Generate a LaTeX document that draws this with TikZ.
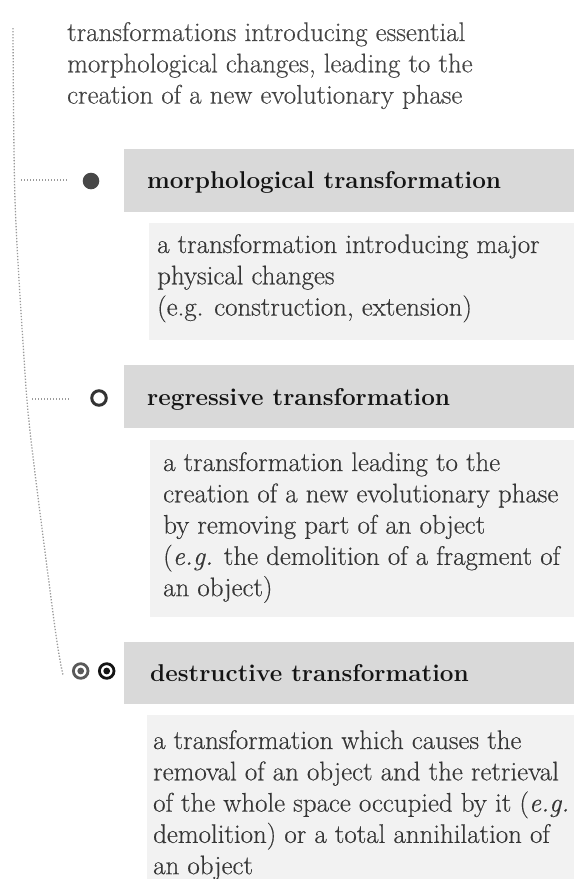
\documentclass[tikz,border=0pt]{standalone}
\usepackage{fontspec}
\newfontfamily\bodyfam{Latin Modern Roman}[FakeBold=0.35]
\definecolor{hdrfill}{HTML}{D9D9D9}
\definecolor{descfill}{HTML}{F2F2F2}
\definecolor{toptext}{HTML}{444444}
\definecolor{hdrtext}{HTML}{141414}
\definecolor{desctext}{HTML}{363636}
\definecolor{dotgray}{HTML}{9A9A9A}
\begin{document}
\begin{tikzpicture}[x=1pt,y=-1pt,
  hdrbox/.style={fill=hdrfill},
  descbox/.style={fill=descfill},
  bodytext/.style={anchor=base west, inner sep=0pt, text=desctext, font=\bodyfam\fontsize{26.9}{31.3}\selectfont},
  toptxt/.style={anchor=base west, inner sep=0pt, text=toptext, font=\bodyfam\fontsize{26.9}{31.3}\selectfont},
  hdrtxt/.style={anchor=base west, inner sep=0pt, text=hdrtext, font=\fontsize{24.3}{30}\selectfont\bfseries},
  dotline/.style={draw=dotgray, line width=1.3pt, dash pattern=on 1.3pt off 1.7pt},
]
\useasboundingbox (0,0) rectangle (574,879);

% top text
\node[toptxt] (intro) at (67,41) {\vtop{\hbox{transformations introducing essential}\hbox{morphological changes, leading to the}\hbox{creation of a new evolutionary phase}}};

% dotted tree line
\coordinate (v0) at (13,28);
\coordinate (v1) at (15,200);
\coordinate (v2) at (24,358);
\coordinate (v3) at (31,440);
\coordinate (v4) at (55,628);
\coordinate (v5) at (63,675);
\draw[dotline] plot[smooth, tension=0.5] coordinates {(v0) (v1) (v2) (v3) (v4) (v5)};
\coordinate (b1s) at (21,180);
\coordinate (b1e) at (67,180);
\coordinate (b2s) at (32,399);
\coordinate (b2e) at (70,399);
\draw[dotline] (b1s) -- (b1e);
\draw[dotline] (b2s) -- (b2e);

% boxes
\path[hdrbox] (124,149) rectangle (574,212);
\path[descbox] (149,223) rectangle (574,340);
\path[hdrbox] (124,365) rectangle (574,428);
\path[descbox] (150,440) rectangle (574,617);
\path[hdrbox] (124,642) rectangle (574,704);
\path[descbox] (147,715) rectangle (574,879);

% icons
\fill[black!72] (91,181) circle (8.3);
\node[circle, draw=black!80, line width=3pt, inner sep=0pt, minimum size=14.5pt] (i2) at (99,398) {};
\draw[black!65, line width=2.8pt] (80.7,671) circle (7.3);
\fill[black!65] (80.7,671) circle (3.4);
\draw[black!92, line width=2.8pt] (106.7,671) circle (7.3);
\fill[black!92] (106.7,671) circle (3.4);

% headers
\node[hdrtxt] (h1) at (147,188) {morphological transformation};
\node[hdrtxt] (h2) at (147,405) {regressive transformation};
\node[hdrtxt] (h3) at (150,681) {destructive transformation};

% descriptions
\node[bodytext] (d1) at (157,253) {\vtop{\hbox{a transformation introducing major}\hbox{physical changes}\hbox{(e.g. construction, extension)}}};
\node[bodytext] (d2) at (163,471) {\vtop{\hbox{a transformation leading to the}\hbox{creation of a new evolutionary phase}\hbox{by removing part of an object}\hbox{(\textit{e.g.} the demolition of a fragment of}\hbox{an object)}}};
\node[bodytext] (d3) at (153,749) {\vtop{\hbox{a transformation which causes the}\hbox{removal of an object and the retrieval}\hbox{of the whole space occupied by it (\textit{e.g.}}\hbox{demolition) or a total annihilation of}\hbox{an object}}};
\end{tikzpicture}
\end{document}
